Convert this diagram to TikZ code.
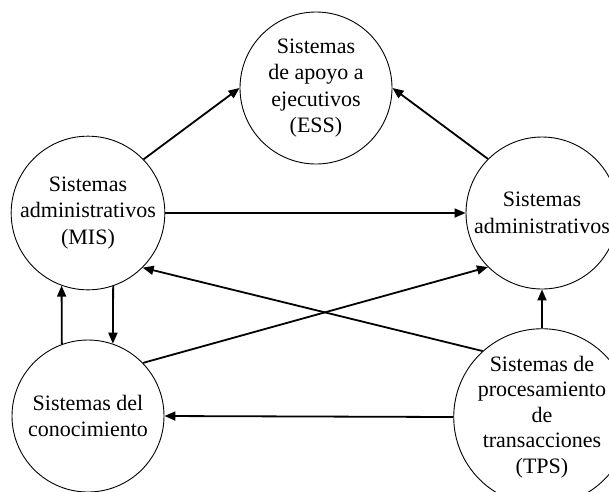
\documentclass[tikz,border=0pt]{standalone}
\usepackage{fontspec}
\setmainfont{Liberation Serif}
\usetikzlibrary{arrows.meta}

\begin{document}
\begin{tikzpicture}[x=1pt,y=-1pt,
    sysnode/.style={draw,circle,line width=0.9pt,minimum size=152pt,inner sep=0pt,align=center,
                    font=\fontsize{22}{26.5}\selectfont},
    flow/.style={-{Triangle[length=11pt,width=9pt]},line width=1.8pt}]
    \useasboundingbox (0,0) rectangle (609,491);
    % circles
    \node[sysnode] (ess) at (316,88) {Sistemas\\de apoyo a\\ejecutivos\\(ESS)};
    \node[sysnode] (mis) at (88,213) {Sistemas\\administrativos\\(MIS)};
    \node[sysnode] (adm) at (542,213) {Sistemas\\administrativos};
    \node[sysnode] (kws) at (88,416) {Sistemas del\\conocimiento};
    \node[sysnode,font=\fontsize{22}{25.5}\selectfont] (tps) at (542,417)
      {Sistemas de\\procesamiento\\de\\transacciones\\(TPS)};
    % flows
    \draw[flow] (mis.44) -- (ess.180);
    \draw[flow] (adm.135) -- (ess.0);
    \draw[flow] (mis) -- (adm);
    \draw[flow] (tps.132) -- (mis.-45);
    \draw[flow] (kws.44) -- (adm.225);
    \draw[flow] (kws.110) -- (mis.250);
    \draw[flow] (mis.289) -- (kws.71);
    \draw[flow] (tps.north) -- (adm.south);
    \draw[flow] (tps.west) -- (kws.east);
\end{tikzpicture}
\end{document}
